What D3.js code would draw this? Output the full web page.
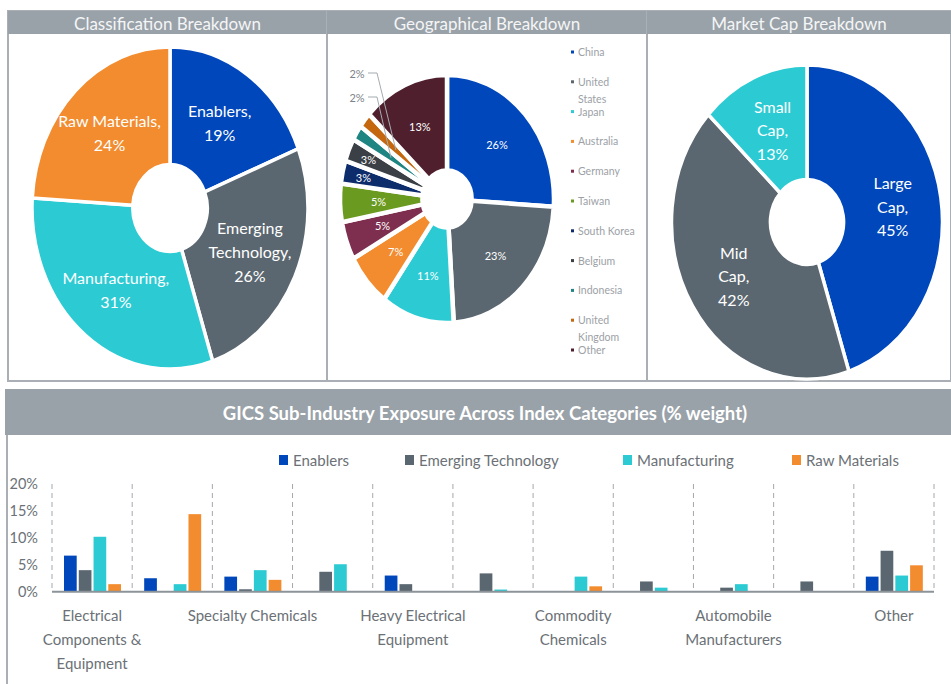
<!DOCTYPE html>
<html><head><meta charset="utf-8">
<script src="https://cdn.jsdelivr.net/npm/d3@7"></script>
<style>
body{margin:0;background:#fff}
svg{display:block;font-family:Lato,'Open Sans',sans-serif}
</style>
</head><body><svg id="c" width="951" height="684"></svg>
<script>
// ---------- data ----------
const classLabels = ["Enablers", "Emerging Technology", "Manufacturing", "Raw Materials"];
const classValues = [19, 26, 31, 24];
const geoLabels = ["China", "United States", "Japan", "Australia", "Germany", "Taiwan", "South Korea", "Belgium", "Indonesia", "United Kingdom", "Other"];
const geoValues = [26, 23, 11, 7, 5, 5, 3, 3, 2, 2, 13];
const capLabels = ["Large Cap", "Mid Cap", "Small Cap"];
const capValues = [45, 42, 13];
const subIndustries = ["Electrical\nComponents &\nEquipment", "", "Specialty Chemicals", "", "Heavy Electrical\nEquipment", "", "Commodity\nChemicals", "", "Automobile\nManufacturers", "", "Other"];
const seriesNames = ["Enablers", "Emerging Technology", "Manufacturing", "Raw Materials"];
const enablers      = [6.7, 2.5, 2.8, 0,   3.0, 0,   0,   0,    0,    0,   2.8];
const emergingTech  = [4.0, 0,   0.45,3.7, 1.4, 3.4, 0,   1.9,  0.75, 1.9, 7.6];
const manufacturing = [10.2,1.4, 4.0, 5.1, 0,   0.4, 2.8, 0.75, 1.4,  0,   3.0];
const rawMaterials  = [1.4, 14.4,2.2, 0,   0,   0,   1.0, 0,    0,    0,   4.9];
const yTicks = [0, 5, 10, 15, 20];

// ---------- styles ----------
const C = {blue:"#0047BB", gray:"#5B6770", cyan:"#2CCBD3", orange:"#F28C2E"};
const classColors = [C.blue, C.gray, C.cyan, C.orange];
const geoColors = [C.blue, C.gray, C.cyan, C.orange, "#7E2F4F", "#6A9A1F", "#0D2C6C", "#3B4046", "#1E8582", "#C4670F", "#4F1F2E"];
const capColors = [C.blue, C.gray, C.cyan];
const headerFill = "#9AA2A9", borderCol = "#A9AFB4", textGray = "#6B7176";

const svg = d3.select("#c");

// ---------- panels ----------
const topPanels = [[8, 327, "Classification Breakdown"], [327, 647, "Geographical Breakdown"], [647, 951, "Market Cap Breakdown"]];
topPanels.forEach(([x0, x1, t]) => {
  svg.append("rect").attr("x", x0).attr("y", 11).attr("width", x1 - x0).attr("height", 370)
    .attr("fill", "#fff").attr("stroke", borderCol).attr("stroke-width", 2);
  svg.append("rect").attr("x", x0).attr("y", 11).attr("width", x1 - x0).attr("height", 23).attr("fill", headerFill);
  svg.append("text").attr("x", (x0 + x1) / 2).attr("y", 23).attr("text-anchor", "middle")
    .attr("dominant-baseline", "central").attr("fill", "#F4F5F6").attr("font-size", 17).text(t);
});
// bottom panel
svg.append("line").attr("x1", 7).attr("x2", 7).attr("y1", 435).attr("y2", 684).attr("stroke", borderCol).attr("stroke-width", 2);
svg.append("rect").attr("x", 5).attr("y", 389).attr("width", 946).attr("height", 46).attr("fill", headerFill);
svg.append("text").attr("x", 485).attr("y", 413).attr("text-anchor", "middle").attr("dominant-baseline", "central")
  .attr("fill", "#fff").attr("font-size", 18.5).attr("font-weight", "bold")
  .text("GICS Sub-Industry Exposure Across Index Categories (% weight)");

// ---------- pies ----------
function wrap(s, maxChars) {
  const words = s.split(" "); const lines = []; let cur = "";
  words.forEach(w => {
    if (cur && (cur + " " + w).length > maxChars) { lines.push(cur); cur = w; }
    else cur = cur ? cur + " " + w : w;
  });
  if (cur) lines.push(cur);
  return lines;
}
function ellipsePie(values, colors, cx, cy, rx, ry, innerFrac, strokeW) {
  const pie = d3.pie().sort(null).value(d => d)(values);
  const arc = d3.arc().innerRadius(rx * innerFrac).outerRadius(rx);
  const g = svg.append("g").attr("transform", `translate(${cx},${cy}) scale(1,${ry / rx})`);
  g.selectAll("path").data(pie).join("path").attr("d", arc)
    .attr("fill", (d, i) => colors[i]).attr("stroke", "#fff").attr("stroke-width", strokeW)
    .attr("vector-effect", "non-scaling-stroke").attr("stroke-linejoin", "miter");
  const pos = (d, f) => { const a = (d.startAngle + d.endAngle) / 2; return [cx + f * rx * Math.sin(a), cy - f * ry * Math.cos(a)]; };
  return {pie, pos};
}
function multiLabel(x, y, lines, size, lh, fill) {
  const t = svg.append("text").attr("text-anchor", "middle").attr("fill", fill).attr("font-size", size);
  const y0 = y - (lines.length - 1) * lh / 2;
  lines.forEach((l, i) => t.append("tspan").attr("x", x).attr("y", y0 + i * lh).attr("dominant-baseline", "central").text(l));
}

// Classification
{
  const {pie, pos} = ellipsePie(classValues, classColors, 170, 208, 138, 161, 0.27, 3.5);
  pie.forEach((d, i) => {
    const [x, y] = pos(d, 0.64);
    multiLabel(x, y, [...wrap(classLabels[i] + ",", 14), classValues[i] + "%"], 16, 24, "#fff");
  });
}
// Market cap
{
  const {pie, pos} = ellipsePie(capValues, capColors, 807, 222, 135.5, 157, 0.27, 3.5);
  pie.forEach((d, i) => {
    const [x, y] = pos(d, 0.64);
    multiLabel(x, y, [...wrap(capLabels[i] + ",", 5), capValues[i] + "%"], 16, 23.5, "#fff");
  });
}
// Geographical
{
  const cx = 447, cy = 199, rx = 107, ry = 124;
  const {pie, pos} = ellipsePie(geoValues, geoColors, cx, cy, rx, ry, 0.23, 4.5);
  pie.forEach((d, i) => {
    const v = geoValues[i];
    if (v >= 3) {
      const [x, y] = pos(d, v >= 5 ? 0.64 : 0.8);
      svg.append("text").attr("x", x).attr("y", y).attr("text-anchor", "middle").attr("dominant-baseline", "central")
        .attr("fill", "#fff").attr("font-size", 11).text(v + "%");
    }
  });
  // outside labels for the smallest slices (UK on top, then Indonesia)
  const small = pie.map((d, i) => ({d, i})).filter(o => geoValues[o.i] < 3).reverse();
  small.forEach((o, k) => {
    const ly = 73 + k * 24, lx = 357;
    const [ex, ey] = pos(o.d, 0.62);
    svg.append("polyline").attr("points", `${lx + 11},${ly} ${lx + 20},${ly} ${ex},${ey}`)
      .attr("fill", "none").attr("stroke", "#A5ABB0").attr("stroke-width", 1);
    svg.append("text").attr("x", lx).attr("y", ly).attr("text-anchor", "middle").attr("dominant-baseline", "central")
      .attr("fill", "#7D8388").attr("font-size", 11).text(geoValues[o.i] + "%");
  });
  // legend
  geoLabels.forEach((name, i) => {
    const y = 52 + i * 29.8;
    svg.append("rect").attr("x", 571).attr("y", y - 1.5).attr("width", 3).attr("height", 3).attr("fill", geoColors[i]);
    const lines = wrap(name, 11);
    const t = svg.append("text").attr("fill", "#9CA1A6").attr("font-size", 10.5);
    lines.forEach((l, j) => t.append("tspan").attr("x", 578).attr("y", y + j * 17).attr("dominant-baseline", "central").text(l));
  });
}

// ---------- bar chart ----------
const seriesData = [enablers, emergingTech, manufacturing, rawMaterials];
const x0 = d3.scaleBand().domain(d3.range(subIndustries.length)).range([52, 934]).padding(0);
const x1 = d3.scaleBand().domain(d3.range(seriesNames.length)).range([12, 69]).paddingInner(0.14);
const y = d3.scaleLinear().domain([0, 20]).range([591.7, 484]);

// dashed separators
const seps = d3.range(subIndustries.length + 1).map(i => i < subIndustries.length ? x0(i) : x0.range()[1]);
svg.append("g").selectAll("line").data(seps).join("line")
  .attr("x1", d => d).attr("x2", d => d).attr("y1", y(20)).attr("y2", y(0))
  .attr("stroke", "#A3A9AE").attr("stroke-width", 1).attr("stroke-dasharray", "5,4");

// bars
const bg = svg.append("g");
subIndustries.forEach((c, ci) => {
  seriesData.forEach((s, si) => {
    if (s[ci] <= 0) return;
    bg.append("rect").attr("x", x0(ci) + x1(si)).attr("width", x1.bandwidth())
      .attr("y", y(s[ci])).attr("height", y(0) - y(s[ci])).attr("fill", classColors[si]);
  });
});

// baseline
svg.append("line").attr("x1", 52).attr("x2", 934).attr("y1", y(0)).attr("y2", y(0)).attr("stroke", "#8C9399").attr("stroke-width", 2);

// y axis
const ya = svg.append("g").attr("transform", "translate(38,0)")
  .call(d3.axisLeft(y).tickValues(yTicks).tickFormat(d => d + "%").tickSize(0).tickPadding(0));
ya.select(".domain").remove();
ya.selectAll("text").attr("font-size", 14.5).attr("fill", textGray).attr("font-family", "Lato,'Open Sans',sans-serif");

// x axis labels
const xa = svg.append("g").attr("transform", `translate(0,${y(0)})`)
  .call(d3.axisBottom(x0).tickSize(0).tickFormat(""));
xa.select(".domain").remove();
xa.selectAll(".tick").each(function(d) {
  const lines = subIndustries[d].split("\n").filter(l => l);
  const t = d3.select(this).append("text").attr("fill", textGray).attr("font-size", 15)
    .attr("text-anchor", "middle").attr("font-family", "Lato,'Open Sans',sans-serif");
  lines.forEach((l, j) => t.append("tspan").attr("x", 0).attr("y", 23.5 + j * 24).attr("dominant-baseline", "central").text(l));
});

// legend
const legX = [279, 405, 623, 792];
seriesNames.forEach((n, i) => {
  svg.append("rect").attr("x", legX[i]).attr("y", 455).attr("width", 9).attr("height", 10).attr("fill", classColors[i]);
  svg.append("text").attr("x", legX[i] + 14).attr("y", 460).attr("dominant-baseline", "central")
    .attr("fill", textGray).attr("font-size", 15).text(n);
});
</script>
</body></html>
